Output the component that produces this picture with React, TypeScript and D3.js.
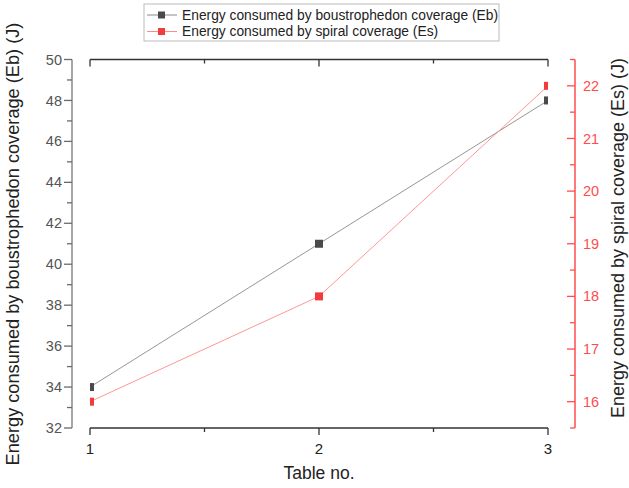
import React from "react";
import * as d3 from "d3";

const tables = [1, 2, 3];
const ebValues = [34, 41, 48];
const esValues = [16, 18, 22];
const leftTicks = [32, 34, 36, 38, 40, 42, 44, 46, 48, 50];
const rightTicks = [16, 17, 18, 19, 20, 21, 22];
const xTicks = [1, 2, 3];
const ebName = "Energy consumed by boustrophedon coverage (Eb)";
const esName = "Energy consumed by spiral coverage (Es)";

const W = 629, H = 488;
const X0 = 90, X1 = 548, Y0 = 59.5, Y1 = 428;
const LEFT_AX = 72, RIGHT_AX = 575;
const GRAY_M = "#4a4a4a", GRAY_L = "#8a8a8a";
const RED_M = "#f03c3c", RED_L = "#ff8a8a", RED_AX = "#ff4d4d";
const FONT = "'Liberation Sans', Arial, sans-serif";

export default function App() {
  const x = d3.scaleLinear().domain([1, 3]).range([X0, X1]);
  const yL = d3.scaleLinear().domain([32, 50]).range([Y1, Y0]);
  const yR = d3.scaleLinear().domain([15.5, 22.5]).range([Y1, Y0]);
  const line = (ys: d3.ScaleLinear<number, number>, vals: number[]) =>
    d3.line<number>().x((_, i) => x(tables[i])).y((v) => ys(v))(vals) || "";
  const leftMinor = d3.range(33, 50, 2);
  const rightMinor = d3.range(15.5, 23, 1);
  const xMinor = [1.5, 2.5];

  return (
    <svg width={W} height={H} style={{ position: "absolute", left: 0, top: 0, background: "#fff" }} fontFamily={FONT}>
      <defs>
        <clipPath id="plot">
          <rect x={X0} y={Y0 - 1} width={X1 - X0} height={Y1 - Y0 + 2} />
        </clipPath>
      </defs>
      {/* Top axis */}
      <line x1={X0} x2={X1} y1={Y0} y2={Y0} stroke="#333" strokeWidth={1.3} />
      {xTicks.map((t) => (
        <line key={"tt" + t} x1={x(t)} x2={x(t)} y1={Y0} y2={Y0 + 7} stroke="#333" strokeWidth={1.3} />
      ))}
      {xMinor.map((t) => (
        <line key={"tm" + t} x1={x(t)} x2={x(t)} y1={Y0} y2={Y0 + 4} stroke="#333" strokeWidth={1.3} />
      ))}
      {/* Bottom axis */}
      <line x1={X0} x2={X1} y1={Y1} y2={Y1} stroke="#333" strokeWidth={1.3} />
      {xTicks.map((t) => (
        <g key={"bt" + t}>
          <line x1={x(t)} x2={x(t)} y1={Y1} y2={Y1 + 7} stroke="#333" strokeWidth={1.3} />
          <text x={x(t)} y={454} textAnchor="middle" fontSize={15} fill="#222">{t}</text>
        </g>
      ))}
      {xMinor.map((t) => (
        <line key={"bm" + t} x1={x(t)} x2={x(t)} y1={Y1} y2={Y1 + 4} stroke="#333" strokeWidth={1.3} />
      ))}
      <text x={(X0 + X1) / 2} y={479} textAnchor="middle" fontSize={17.5} fill="#222">Table no.</text>

      {/* Left axis */}
      <line x1={LEFT_AX} x2={LEFT_AX} y1={Y0} y2={Y1} stroke="#8a8a8a" strokeWidth={1.5} />
      {leftTicks.map((t) => (
        <g key={"lt" + t}>
          <line x1={LEFT_AX - 8} x2={LEFT_AX} y1={yL(t)} y2={yL(t)} stroke="#6a6a6a" strokeWidth={1.3} />
          <text x={LEFT_AX - 10} y={yL(t)} dy="0.35em" textAnchor="end" fontSize={14.5} fill="#555">{t}</text>
        </g>
      ))}
      {leftMinor.map((t) => (
        <line key={"lm" + t} x1={LEFT_AX - 5} x2={LEFT_AX} y1={yL(t)} y2={yL(t)} stroke="#6a6a6a" strokeWidth={1.3} />
      ))}
      <text transform={`translate(19,244) rotate(-90)`} textAnchor="middle" fontSize={18.2} fill="#222">
        Energy consumed by boustrophedon coverage (Eb) (J)
      </text>

      {/* Right axis */}
      <line x1={RIGHT_AX} x2={RIGHT_AX} y1={Y0} y2={Y1} stroke={RED_AX} strokeWidth={1.5} />
      {rightTicks.map((t) => (
        <g key={"rt" + t}>
          <line x1={RIGHT_AX - 8} x2={RIGHT_AX} y1={yR(t)} y2={yR(t)} stroke={RED_AX} strokeWidth={1.3} />
          <text x={RIGHT_AX + 8} y={yR(t)} dy="0.35em" textAnchor="start" fontSize={14.5} fill={RED_AX}>{t}</text>
        </g>
      ))}
      {rightMinor.map((t) => (
        <line key={"rm" + t} x1={RIGHT_AX - 5} x2={RIGHT_AX} y1={yR(t)} y2={yR(t)} stroke={RED_AX} strokeWidth={1.3} />
      ))}
      <text transform={`translate(624,238) rotate(-90)`} textAnchor="middle" fontSize={18} fill="#222">
        Energy consumed by spiral coverage (Es) (J)
      </text>

      {/* Series */}
      <g clipPath="url(#plot)">
        <path d={line(yL, ebValues)} fill="none" stroke={GRAY_L} strokeWidth={0.9} />
        <path d={line(yR, esValues)} fill="none" stroke={RED_L} strokeWidth={0.9} />
        {ebValues.map((v, i) => (
          <rect key={"eb" + i} x={x(tables[i]) - 4} y={yL(v) - 4} width={8} height={8} fill={GRAY_M} />
        ))}
        {esValues.map((v, i) => (
          <rect key={"es" + i} x={x(tables[i]) - 4} y={yR(v) - 4} width={8} height={8} fill={RED_M} />
        ))}
      </g>

      {/* Legend */}
      <rect x={144} y={4} width={355} height={37} fill="#fff" stroke="#bbb" strokeWidth={1} />
      {[
        { name: ebName, line: GRAY_L, mark: GRAY_M, y: 15 },
        { name: esName, line: RED_L, mark: RED_M, y: 31.5 },
      ].map((d) => (
        <g key={d.name}>
          <line x1={147} x2={177} y1={d.y} y2={d.y} stroke={d.line} strokeWidth={1} />
          <rect x={158} y={d.y - 3.5} width={7} height={7} fill={d.mark} />
          <text x={182} y={d.y} dy="0.35em" fontSize={13.8} fill="#222">{d.name}</text>
        </g>
      ))}
    </svg>
  );
}
